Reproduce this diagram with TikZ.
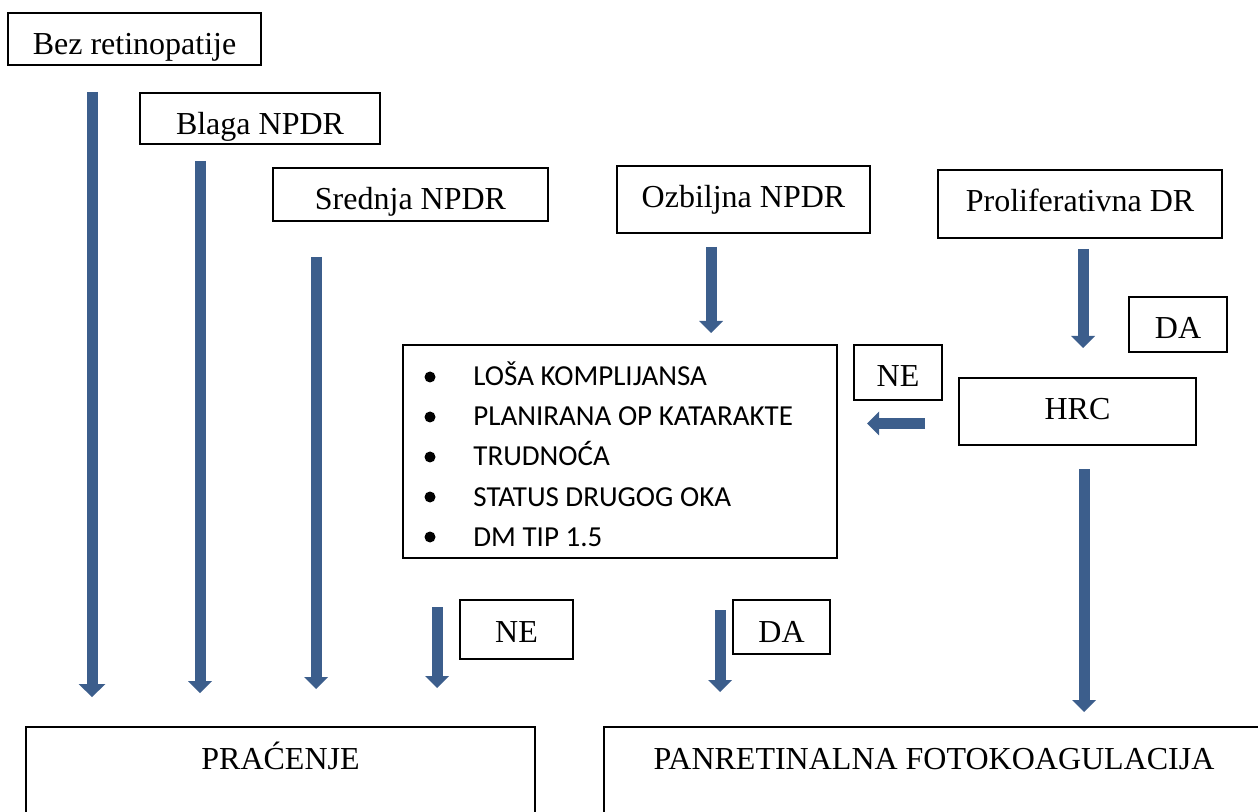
\documentclass[tikz,border=0pt]{standalone}
\usepackage{fontspec}
\setmainfont{Liberation Serif}
\newfontfamily\listfont{Carlito}
\usepackage{xcolor}
\usepackage{tikz}
\usetikzlibrary{arrows.meta}
\definecolor{arrowblue}{RGB}{60,94,140}
\tikzset{
  box/.style={draw, line width=1pt, inner xsep=0pt, inner ysep=0pt, text height=21pt,
    anchor=north west, font=\fontsize{16}{19}\selectfont},
  listbox/.style={draw, line width=1pt, inner sep=0pt, anchor=north west},
  flowarrow/.style={draw=arrowblue, line width=5.5pt, -{Triangle[width=12pt, length=6pt, line width=0pt]}},
  widearrow/.style={draw=arrowblue, line width=5.5pt, -{Triangle[width=13.5pt, length=6.5pt, line width=0pt]}}
}

\begin{document}
\begin{tikzpicture}[x=0.5pt, y=-0.5pt]
      \useasboundingbox (0,0) rectangle (1258,812);
      \clip (0,0) rectangle (1258,812);

      % Stages of retinopathy
      \node[box, minimum width=126.5pt, text depth=5pt] (bez) at (7,12) {Bez retinopatije};
      \node[box, minimum width=120pt, text depth=4.5pt] (blaga) at (139,92) {Blaga NPDR};
      \node[box, minimum width=137.5pt, text depth=5.5pt] (srednja) at (272,167) {Srednja NPDR};
      \node[box, minimum width=126.5pt, text depth=12.5pt] (ozbiljna) at (616,165) {Ozbiljna NPDR};
      \node[box, minimum width=142pt, text depth=13pt] (prolif) at (937,169) {Proliferativna DR};

      % Decision boxes
      \node[box, minimum width=49pt, text depth=6.5pt] (daup) at (1128,296) {DA};
      \node[box, minimum width=44pt, text depth=6.5pt] (neup) at (853,344) {NE};
      \node[box, minimum width=118.5pt, text depth=12.5pt] (hrc) at (958,377) {HRC};
      \node[box, minimum width=56.5pt, text depth=8.5pt] (nelow) at (459,599) {NE};
      \node[box, minimum width=48.5pt, text depth=6pt] (dalow) at (732,599) {DA};

      % Criteria list
      \node[listbox, minimum width=217pt, minimum height=106.5pt] (criteria) at (402,344) {};
      \foreach \t [count=\i] in {LOŠA KOMPLIJANSA, PLANIRANA OP KATARAKTE, TRUDNOĆA, STATUS DRUGOG OKA, DM TIP 1.5} {
        \node[circle, fill, inner sep=0pt, minimum size=5.5pt] (bul\i) at (430,{337+40*\i}) {};
        \node[anchor=base west, inner sep=0pt, font=\listfont\fontsize{14.5}{17}\selectfont] (item\i) at (473,{346+40*\i}) {\t};
      }

      % Outcomes
      \node[box, minimum width=254.5pt, text depth=36pt] (pracenje) at (25,726) {PRAĆENJE};
      \node[box, minimum width=330pt, text depth=36pt] (prf) at (603,726) {PANRETINALNA FOTOKOAGULACIJA};

      % Arrow ends
      \foreach \n/\x/\ya/\yb in {a2/200/161/693, a3/316/257/689, a4/437/607/688, a5/720/610/692,
                                 a6/711/247/333, a7/1083/249/348, a8/1084/469/712} {
        \coordinate (\n s) at (\x,\ya);
        \coordinate (\n e) at (\x,\yb);
        \draw[flowarrow] (\n s) -- (\n e);
      }
      \coordinate (a1s) at (92,92);
      \coordinate (a1e) at (92,697);
      \draw[widearrow] (a1s) -- (a1e);
      \coordinate (a9s) at (925,423.5);
      \coordinate (a9e) at (867,423.5);
      \draw[flowarrow] (a9s) -- (a9e);
    \end{tikzpicture}
\end{document}
